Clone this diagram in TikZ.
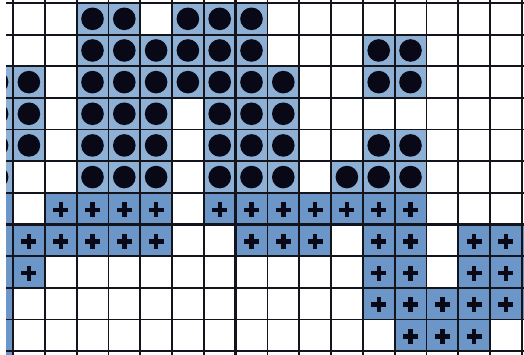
\documentclass[tikz,border=0pt]{standalone}
\usepackage{xcolor}
\definecolor{dotfill}{RGB}{141,176,212}
\definecolor{plusfill}{RGB}{108,150,200}
\definecolor{markcol}{RGB}{8,8,22}
\definecolor{gridcol}{RGB}{20,20,28}
\tikzset{
  dotcell/.style={fill=dotfill},
  pluscell/.style={fill=plusfill},
  dotmark/.style={fill=markcol},
  plusmark/.style={draw=markcol, line width=4.4pt},
  gridline/.style={draw=gridcol, line width=1.8pt},
  thickline/.style={draw=gridcol, line width=3pt}
}
\begin{document}
\begin{tikzpicture}[x=1pt,y=-1pt]
\useasboundingbox (0,0) rectangle (524,355);
\fill[white] (0,0) rectangle (524,355);
\def\cw{31.8}
\def\ch{31.65}
\begin{scope}
\clip (6,0) rectangle (524,355);
% dot cells
\foreach \r/\cs in {0/{2,3,5,6,7},
                    1/{2,3,4,5,6,7,11,12},
                    2/{-1,0,2,3,4,5,6,7,8,11,12},
                    3/{-1,0,2,3,4,6,7,8},
                    4/{-1,0,2,3,4,6,7,8,11,12},
                    5/{-1,2,3,4,6,7,8,10,11,12}}{
  \foreach \c in \cs {
    \fill[dotcell] ({13+\c*\cw},{3+\r*\ch}) rectangle ++(\cw,\ch);
    \fill[dotmark] ({13+(\c+0.5)*\cw},{3+(\r+0.5)*\ch}) circle (11.3);
  }
}
% plus cells
\foreach \r/\cs in {6/{-1,1,2,3,4,6,7,8,9,10,11,12},
                    7/{-1,0,1,2,3,4,7,8,9,11,12,14,15,16},
                    8/{-1,0,11,12,14,15,16},
                    9/{-1,11,12,13,14,15,16},
                    10/{-1,12,13,14},
                    11/{-1}}{
  \foreach \c in \cs {
    \fill[pluscell] ({13+\c*\cw},{3+\r*\ch}) rectangle ++(\cw,\ch);
    \draw[plusmark] ({13+(\c+0.5)*\cw-7.5},{3+(\r+0.5)*\ch+1}) -- ++(15,0)
                    ({13+(\c+0.5)*\cw},{3+(\r+0.5)*\ch+1-7.5}) -- ++(0,15);
  }
}
% grid
\foreach \k in {-1,...,16}{
  \draw[gridline] ({13+\k*\cw},0) -- ({13+\k*\cw},355);
}
\foreach \k in {0,...,11}{
  \draw[gridline] (0,{3+\k*\ch}) -- (524,{3+\k*\ch});
}
\draw[thickline] ({13+7*\cw},0) -- ({13+7*\cw},355);
\draw[thickline] (0,{3+7*\ch}) -- (524,{3+7*\ch});
\end{scope}
\end{tikzpicture}
\end{document}
